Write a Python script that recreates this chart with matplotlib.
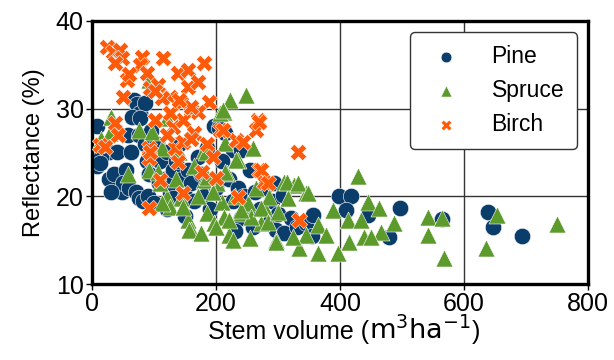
import numpy as np
import matplotlib
matplotlib.use('agg')
import matplotlib.pyplot as plt

# values (stem volume m3/ha, reflectance %)
pine_x = [8, 18, 28, 8, 15, 27, 35, 40, 48, 55, 50, 60, 62, 70, 75, 82, 90, 100,
          58, 68, 72, 78, 65, 75, 85, 88, 92, 95, 105, 110, 108, 118, 125, 130,
          120, 130, 135, 140, 145, 150, 150, 155, 160, 165, 170, 175, 180, 185,
          190, 200, 196, 205, 215, 228, 240, 210, 220, 228, 235, 240, 245, 250,
          255, 262, 270, 278, 285, 290, 293, 308, 300, 296, 310, 320, 330, 345,
          356, 355, 398, 418, 410, 445, 478, 496, 564, 638, 646, 693, 230, 260,
          120, 38, 30, 86, 78, 13]
pine_y = [28, 26, 25, 23.5, 24.5, 22, 22.5, 25, 20.5, 23, 21.5, 21, 25, 20.5,
          19.8, 19.5, 20, 19.2, 27, 31, 30.5, 29.5, 29, 27, 26, 24, 22.5, 27.5,
          26, 24, 21.5, 22, 20.5, 19.8, 25, 23, 24, 26, 22, 20, 17.8, 23, 21.5,
          19.5, 24.5, 22.5, 20, 25.5, 18.5, 21, 28, 27.8, 27.2, 25.3, 25.3, 24,
          22, 19.5, 21, 17.5, 20, 18.5, 23, 20.5, 18.5, 21, 17, 19.5, 21.5, 20.1,
          18, 16.2, 15.8, 17.5, 16.5, 17, 17.9, 15.5, 20, 20, 18.4, 17.9, 15.4,
          18.7, 17.4, 18.2, 16.5, 15.5, 16, 16.5, 18.5, 27.5, 20.5, 30.6, 28.9,
          23.8]

spruce_x = [29, 75, 97, 121, 91, 223, 248, 212, 207, 215, 58, 91, 113, 107, 180,
            180, 218, 235, 259, 121, 110, 143, 126, 154, 159, 186, 196, 220, 227,
            245, 272, 277, 210, 202, 146, 156, 212, 240, 251, 256, 285, 296, 113,
            211, 232, 183, 215, 186, 309, 326, 345, 316, 272, 240, 175, 220, 314,
            332, 348, 389, 445, 462, 413, 434, 487, 466, 439, 450, 415, 397, 364,
            334, 296, 542, 564, 542, 567, 364, 377, 345, 324, 283, 300, 653, 635,
            750, 428, 14, 30, 165, 135, 195, 265, 255, 230, 200, 140, 170]
spruce_y = [27.2, 27.6, 27.3, 28.9, 33.3, 31, 31.5, 29.6, 29.5, 26.1, 22.5, 23,
            25.5, 22.8, 25.3, 21.9, 22.7, 24.1, 25.5, 19.9, 21.5, 19.8, 18.8,
            17.3, 16.2, 18.1, 17, 15.6, 15, 18.2, 17, 18.8, 19.3, 21.5, 18.8,
            16.2, 17.6, 18.1, 19.2, 17.6, 19.9, 15, 19.2, 29.8, 24.1, 25, 22.8,
            22.2, 21.6, 21.3, 20.4, 19.8, 18.7, 18.4, 15.8, 17.3, 21.6, 21.5,
            20.4, 18.4, 19.3, 18.7, 17.3, 17.3, 17, 15.9, 15.4, 15.4, 14.8, 13.5,
            13.5, 14.1, 14.8, 17.6, 17.5, 15.6, 13, 16.7, 15.6, 15.6, 15.4, 17.1,
            18.2, 17.9, 14.1, 16.8, 22.3, 26.5, 29, 23.5, 22, 20.5, 21, 15.2, 20,
            16.5, 25, 20]

birch_x = [24, 34, 45, 49, 37, 81, 78, 115, 89, 57, 50, 94, 107, 138, 154, 180,
           155, 126, 113, 143, 159, 188, 170, 102, 37, 42, 102, 130, 147, 159,
           164, 207, 232, 267, 264, 12, 21, 91, 91, 110, 134, 147, 91, 147, 178,
           199, 236, 138, 94, 269, 277, 269, 211, 243, 272, 283, 334, 332, 120,
           160, 185, 195, 125, 60, 140, 170]
birch_y = [37, 36.5, 36.7, 35.8, 35.2, 35.9, 35, 35.8, 34.1, 33.3, 31.3, 32.3,
           32.7, 34.1, 34.4, 35.2, 32.5, 31.3, 31.2, 30.6, 29.8, 30.8, 29.6, 32,
           28.4, 27, 28.7, 27.9, 28.7, 30.2, 27.2, 27.6, 26.4, 28.7, 27.6, 25.8,
           25.6, 25.5, 24.4, 21.9, 25.5, 26.2, 18.7, 20.4, 22.8, 22.1, 19.9, 23.9,
           25, 23, 21.6, 28.5, 27.6, 26.2, 23, 21.5, 17.3, 25.1, 27, 26.5, 26,
           24.5, 29.5, 34, 31, 33]

plt.rcParams['font.family'] = ['Liberation Sans', 'DejaVu Sans']
plt.rcParams['mathtext.fontset'] = 'dejavusans'

fig = plt.figure(figsize=(6.14, 3.6), dpi=100)
ax = fig.add_axes([0.150, 0.211, 0.808, 0.731])

ax.grid(True, color='0.2', linewidth=1.0, zorder=0)
ax.set_axisbelow(True)

ax.scatter(pine_x, pine_y, s=140, marker='o', color='#0b3d6b',
           edgecolor='white', linewidth=0.4, label='Pine', zorder=2)
ax.scatter(spruce_x, spruce_y, s=150, marker='^', color='#5b9a2b',
           edgecolor='white', linewidth=0.4, label='Spruce', zorder=3)
ax.scatter(birch_x, birch_y, s=140, marker='X', color='#ff5a0a',
           edgecolor='white', linewidth=0.4, label='Birch', zorder=4)

ax.set_xlim(0, 800)
ax.set_ylim(10, 40)
ax.set_xticks([0, 200, 400, 600, 800])
ax.set_yticks([10, 20, 30, 40])
ax.tick_params(labelsize=18, length=4, width=1, pad=2)
for sp in ax.spines.values():
    sp.set_linewidth(2.4)

ax.set_ylabel('Reflectance (%)', fontsize=17, labelpad=8)

# x label in three pieces: the unit part is drawn a bit larger
yb = 0.058
parts = [fig.text(0, yb, 'Stem volume (', fontsize=18, va='baseline'),
         fig.text(0, yb, '$\\mathrm{m^3ha^{-1}}$', fontsize=19.5, va='baseline'),
         fig.text(0, yb, ')', fontsize=18, va='baseline')]
r = fig.canvas.get_renderer()
widths = [t.get_window_extent(r).width for t in parts]
x0 = 344 - sum(widths) / 2
for t, w in zip(parts, widths):
    t.set_x(x0 / 614)
    x0 += w

leg = ax.legend(loc='upper right', fontsize=16.5, markerscale=0.65,
                frameon=True, fancybox=True, framealpha=1,
                handletextpad=1.0, borderpad=0.55, labelspacing=0.48)
leg.get_frame().set_edgecolor('0.2')
leg.get_frame().set_linewidth(1.0)

plt.savefig('out.png', dpi=100)
